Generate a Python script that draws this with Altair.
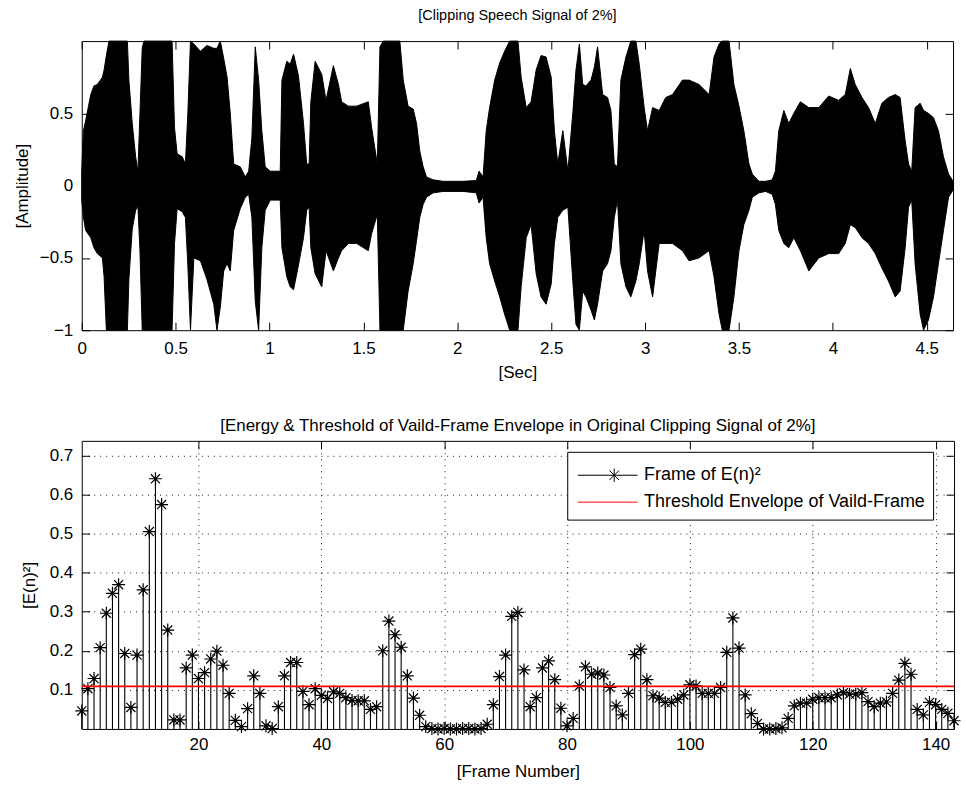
import altair as alt
import pandas as pd

FONT = "Liberation Sans"

# ---------------- top panel: envelope of the clipped speech signal ----------------
wave_t = [0.000, 0.009, 0.021, 0.048, 0.065, 0.083, 0.110, 0.119, 0.131, 0.145,
          0.243, 0.251, 0.269, 0.287, 0.299, 0.310, 0.322, 0.331, 0.481, 0.494,
          0.508, 0.535, 0.552, 0.565, 0.579, 0.597, 0.632, 0.667, 0.703, 0.720,
          0.738, 0.756, 0.774, 0.791, 0.809, 0.844, 0.871, 0.889, 0.906, 0.924,
          0.942, 0.959, 0.977, 1.004, 1.057, 1.066, 1.092, 1.110, 1.128, 1.154,
          1.181, 1.198, 1.211, 1.220, 1.243, 1.278, 1.301, 1.340, 1.367, 1.384,
          1.420, 1.464, 1.526, 1.544, 1.574, 1.588, 1.606, 1.694, 1.712, 1.738,
          1.765, 1.783, 1.800, 1.818, 1.836, 1.871, 1.925, 1.977, 2.031, 2.101,
          2.116, 2.137, 2.154, 2.172, 2.199, 2.226, 2.252, 2.279, 2.323, 2.340,
          2.367, 2.393, 2.420, 2.446, 2.473, 2.500, 2.517, 2.535, 2.562, 2.589,
          2.615, 2.632, 2.650, 2.668, 2.685, 2.712, 2.730, 2.747, 2.774, 2.800,
          2.818, 2.836, 2.853, 2.871, 2.898, 2.924, 2.951, 2.969, 2.995, 3.013,
          3.040, 3.075, 3.110, 3.146, 3.199, 3.234, 3.287, 3.341, 3.367, 3.394,
          3.411, 3.447, 3.473, 3.500, 3.526, 3.553, 3.571, 3.606, 3.642, 3.677,
          3.694, 3.712, 3.739, 3.765, 3.792, 3.827, 3.872, 3.925, 3.978, 4.031,
          4.066, 4.093, 4.119, 4.155, 4.190, 4.226, 4.261, 4.296, 4.332, 4.358,
          4.385, 4.403, 4.420, 4.438, 4.465, 4.483, 4.509, 4.536, 4.562, 4.589,
          4.616, 4.640]
wave_hi = [0.10, 0.38, 0.45, 0.63, 0.69, 0.70, 0.75, 0.80, 0.90, 1.00,
           1.00, 0.73, 0.43, 0.20, 0.10, 0.50, 0.95, 1.00, 1.00, 0.40,
           0.22, 0.20, 0.15, 0.50, 1.00, 0.98, 0.93, 0.97, 0.95, 0.95,
           1.00, 0.88, 0.75, 0.50, 0.15, 0.13, 0.06, 0.10, 0.33, 0.96,
           0.73, 0.38, 0.13, 0.10, 0.10, 0.73, 0.86, 0.84, 0.91, 0.76,
           0.43, 0.15, 0.15, 0.58, 0.86, 0.77, 0.59, 0.83, 0.70, 0.58,
           0.55, 0.55, 0.58, 0.40, 0.15, 0.96, 1.00, 1.00, 0.73, 0.55,
           0.53, 0.43, 0.24, 0.13, 0.06, 0.04, 0.03, 0.03, 0.03, 0.035,
           0.10, 0.06, 0.38, 0.54, 0.73, 0.85, 0.93, 1.00, 1.00, 0.75,
           0.54, 0.58, 0.80, 0.90, 0.89, 0.75, 0.38, 0.15, 0.38, 0.10,
           0.50, 0.80, 0.98, 0.70, 0.69, 0.73, 0.82, 0.96, 0.63, 0.61,
           0.52, 0.15, 0.13, 0.73, 0.89, 1.00, 1.00, 0.84, 0.54, 0.38,
           0.54, 0.52, 0.61, 0.63, 0.73, 0.73, 0.70, 0.63, 0.89, 0.98,
           1.00, 1.00, 0.70, 0.55, 0.38, 0.15, 0.08, 0.03, 0.03, 0.04,
           0.10, 0.38, 0.52, 0.43, 0.50, 0.58, 0.54, 0.54, 0.62, 0.59,
           0.63, 0.81, 0.70, 0.61, 0.54, 0.43, 0.57, 0.61, 0.63, 0.61,
           0.31, 0.15, 0.10, 0.54, 0.57, 0.52, 0.50, 0.47, 0.38, 0.20,
           0.08, 0.03]
wave_lo = [-0.10, -0.22, -0.31, -0.36, -0.43, -0.47, -0.50, -0.63, -1.00, -1.00,
           -1.00, -0.65, -0.30, -0.17, -0.14, -0.45, -1.00, -1.00, -1.00, -0.40,
           -0.16, -0.18, -0.22, -0.55, -1.00, -0.50, -0.52, -0.65, -0.82, -1.00,
           -0.84, -0.59, -0.54, -0.59, -0.31, -0.16, -0.08, -0.06, -0.22, -0.80,
           -1.00, -0.43, -0.17, -0.10, -0.10, -0.43, -0.63, -0.70, -0.72, -0.55,
           -0.36, -0.17, -0.15, -0.43, -0.61, -0.70, -0.45, -0.59, -0.50, -0.45,
           -0.40, -0.40, -0.45, -0.33, -0.20, -1.00, -1.00, -1.00, -1.00, -0.73,
           -0.54, -0.38, -0.22, -0.13, -0.08, -0.05, -0.04, -0.04, -0.04, -0.05,
           -0.12, -0.08, -0.36, -0.54, -0.66, -0.77, -0.89, -1.00, -1.00, -0.70,
           -0.36, -0.27, -0.61, -0.77, -0.82, -0.68, -0.40, -0.22, -0.17, -0.15,
           -0.66, -0.96, -1.00, -0.73, -0.77, -0.86, -0.93, -0.82, -0.59, -0.54,
           -0.45, -0.22, -0.10, -0.54, -0.70, -0.77, -0.66, -0.54, -0.31, -0.59,
           -0.77, -0.40, -0.40, -0.40, -0.45, -0.52, -0.50, -0.45, -0.63, -0.89,
           -1.00, -1.00, -0.77, -0.45, -0.27, -0.17, -0.08, -0.05, -0.04, -0.06,
           -0.13, -0.31, -0.40, -0.43, -0.36, -0.45, -0.59, -0.50, -0.47, -0.47,
           -0.40, -0.27, -0.29, -0.36, -0.40, -0.47, -0.57, -0.66, -0.77, -0.73,
           -0.43, -0.15, -0.10, -0.54, -0.89, -1.00, -0.93, -0.77, -0.54, -0.31,
           -0.08, -0.03]

sec_ticks = [0, 0.5, 1, 1.5, 2, 2.5, 3, 3.5, 4, 4.5]
amp_ticks = [-1, -0.5, 0, 0.5]

# ---------------- bottom panel: frame energy ----------------
frames = list(range(1, 144))
energy = [0.046, 0.103, 0.129, 0.208, 0.296, 0.347, 0.369, 0.193, 0.055, 0.189,
          0.356, 0.505, 0.640, 0.574, 0.253, 0.023, 0.023, 0.156, 0.189, 0.129,
          0.144, 0.179, 0.199, 0.163, 0.091, 0.022, 0.006, 0.052, 0.136, 0.091,
          0.008, 0.001, 0.057, 0.136, 0.170, 0.170, 0.096, 0.062, 0.103, 0.086,
          0.078, 0.095, 0.091, 0.080, 0.073, 0.072, 0.072, 0.050, 0.057, 0.200,
          0.276, 0.241, 0.209, 0.136, 0.079, 0.035, 0.006, 0.001, 0.000, 0.001,
          0.000, 0.000, 0.001, 0.001, 0.000, 0.001, 0.012, 0.062, 0.134, 0.189,
          0.288, 0.298, 0.151, 0.057, 0.080, 0.156, 0.174, 0.126, 0.053, 0.008,
          0.027, 0.110, 0.159, 0.140, 0.143, 0.138, 0.106, 0.059, 0.036, 0.091,
          0.190, 0.204, 0.126, 0.085, 0.079, 0.068, 0.068, 0.076, 0.087, 0.113,
          0.110, 0.091, 0.091, 0.091, 0.106, 0.196, 0.284, 0.207, 0.087, 0.039,
          0.014, 0.000, 0.000, 0.001, 0.003, 0.027, 0.059, 0.066, 0.066, 0.076,
          0.080, 0.080, 0.080, 0.087, 0.093, 0.089, 0.089, 0.093, 0.070, 0.057,
          0.066, 0.069, 0.091, 0.125, 0.168, 0.140, 0.050, 0.036, 0.068, 0.062,
          0.050, 0.040, 0.021]
threshold = [0.109]
series = ["Frame of E(n)\u00b2", "Threshold Envelope of Vaild-Frame"]
series_colors = ["black", "#ff0000"]

frame_ticks = [20, 40, 60, 80, 100, 120, 140]
energy_ticks = [0.1, 0.2, 0.3, 0.4, 0.5, 0.6, 0.7]

# ---------------- shapes ----------------
STAR = "M-1,0H1M0,-1V1M-0.7,-0.7L0.7,0.7M-0.7,0.7L0.7,-0.7"
LEG_STAR = "M-2,0H2M0.44,-0.45V0.45M0.12,-0.32L0.76,0.32M0.12,0.32L0.76,-0.32"
LEG_LINE = "M-2,0H2"

TICK = 8
base_axis = dict(domain=False, tickSize=TICK, offset=-TICK, tickColor="black",
                 tickWidth=1, labelColor="black", labelFont=FONT, labelFontSize=17,
                 titleFont=FONT, titleFontSize=17, titleFontWeight="normal",
                 titleColor="black")
tick_only = dict(domain=False, tickSize=TICK, offset=-TICK, tickColor="black",
                 tickWidth=1, labels=False, title=None, grid=False,
                 minExtent=0, maxExtent=0)

# ---------------- top chart ----------------
wave_df = pd.DataFrame({"t": wave_t, "hi": wave_hi, "lo": wave_lo})
xs1 = alt.Scale(domain=[0, 4.64], nice=False, zero=False)
ys1 = alt.Scale(domain=[-1, 1], nice=False, zero=False)

area = alt.Chart(wave_df).mark_area(color="black", stroke="black", strokeWidth=1).encode(
    x=alt.X("t:Q", scale=xs1,
            axis=alt.Axis(values=sec_ticks, format="~g", title="[Sec]", grid=False,
                          labelFlush=False, labelPadding=10, titlePadding=8, **base_axis)),
    y=alt.Y("hi:Q", scale=ys1,
            axis=alt.Axis(values=amp_ticks, format="~g", title="[Amplitude]", grid=False,
                          labelPadding=9, titlePadding=8, **base_axis)),
    y2="lo:Q",
)
top_frame = alt.Chart(wave_df).mark_point(opacity=0).encode(
    x=alt.X("t:Q", scale=xs1, axis=alt.Axis(orient="top", values=sec_ticks, **tick_only)),
    y=alt.Y("hi:Q", scale=ys1, axis=alt.Axis(orient="right", values=amp_ticks, **tick_only)),
)
top = alt.layer(area, top_frame).resolve_axis(x="independent", y="independent").properties(
    width=874, height=290,
    title=alt.Title("[Clipping Speech Signal of 2%]", fontSize=14.5, offset=15),
)

# ---------------- bottom chart ----------------
en_df = pd.DataFrame({"frame": frames, "energy": energy})
thr_df = pd.DataFrame({"thr": threshold})
leg_df = pd.DataFrame({"series": series})
xs2 = alt.Scale(domain=[1, 143], nice=False, zero=False)
ys2 = alt.Scale(domain=[0, 0.737], nice=False, zero=False)

grid_opts = dict(grid=True, gridColor="black", gridDash=[1, 5], gridWidth=1, gridOpacity=0.9)

stems = alt.Chart(en_df).mark_rule(color="black", strokeWidth=1.1).encode(
    x=alt.X("frame:Q", scale=xs2,
            axis=alt.Axis(values=frame_ticks, title="[Frame Number]", labelFlush=False,
                          labelPadding=8, titlePadding=11, **grid_opts, **base_axis)),
    y=alt.Y("energy:Q", scale=ys2,
            axis=alt.Axis(values=energy_ticks, format=".1f", title="[E(n)\u00b2]",
                          labelPadding=9, titlePadding=11, **grid_opts, **base_axis)),
    y2=alt.datum(0),
)
stars = alt.Chart(en_df).mark_point(shape=STAR, filled=False, color="black", size=169,
                                    strokeWidth=1.2, opacity=1).encode(
    x=alt.X("frame:Q", scale=xs2, axis=None),
    y=alt.Y("energy:Q", scale=ys2, axis=None),
)
dots = alt.Chart(en_df).mark_point(shape="circle", filled=True, color="black", size=9,
                                   opacity=1).encode(
    x=alt.X("frame:Q", scale=xs2, axis=None),
    y=alt.Y("energy:Q", scale=ys2, axis=None),
)
thr = alt.Chart(thr_df).mark_rule(color="#ff0000", strokeWidth=1.6, opacity=1).encode(
    y=alt.Y("thr:Q", scale=ys2, axis=None),
)
leg = alt.Legend(title=None, orient="none", legendX=487, legendY=11,
                 fillColor="white", strokeColor="black",
                 padding=8, cornerRadius=0, labelLimit=0,
                 labelFont=FONT, labelFontSize=18, labelColor="black",
                 symbolSize=900, symbolStrokeWidth=1, symbolOpacity=1,
                 symbolOffset=17, labelOffset=21, rowPadding=2)
legend_layer = alt.Chart(leg_df).mark_point(filled=False, opacity=0).encode(
    color=alt.Color("series:N", scale=alt.Scale(domain=series, range=series_colors), legend=leg),
    shape=alt.Shape("series:N", scale=alt.Scale(domain=series, range=[LEG_STAR, LEG_LINE]), legend=leg),
)
bot_frame = alt.Chart(en_df).mark_point(opacity=0).encode(
    x=alt.X("frame:Q", scale=xs2, axis=alt.Axis(orient="top", values=frame_ticks, **tick_only)),
    y=alt.Y("energy:Q", scale=ys2, axis=alt.Axis(orient="right", values=energy_ticks, **tick_only)),
)
bottom = alt.layer(stems, stars, dots, thr, legend_layer, bot_frame).resolve_axis(
    x="independent", y="independent").properties(
    width=875, height=289,
    title=alt.Title("[Energy & Threshold of Vaild-Frame Envelope in Original Clipping Signal of 2%]",
                    fontSize=17, offset=5),
)

chart = alt.vconcat(top, bottom, spacing=36).resolve_scale(
    color="independent", shape="independent").resolve_legend(
    color="independent", shape="independent").configure(
    font=FONT, background="white",
    padding={"left": 12, "top": 6, "right": 2, "bottom": 1},
).configure_view(stroke="black", strokeWidth=1).configure_title(
    font=FONT, fontWeight="normal", color="black", anchor="middle")

chart.save("out.html", embed_options={"renderer": "svg", "actions": False})
